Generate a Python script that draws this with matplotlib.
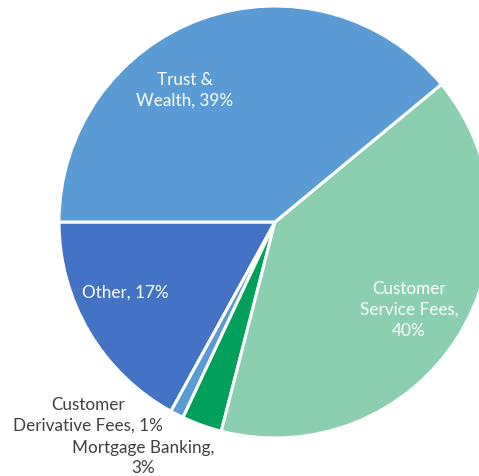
import matplotlib
matplotlib.use("Agg")
import matplotlib.pyplot as plt

# ── Data ──────────────────────────────────────────────────────────────────────
categories = ["Other", "Customer Derivative Fees", "Mortgage Banking",
              "Customer Service Fees", "Trust & Wealth"]
shares = [17, 1, 3, 40, 39]
colors = ["#4472C4", "#5B9BD5", "#00A05A", "#8CCEB0", "#5B9BD5"]

# ── Figure (data units = pixels) ─────────────────────────────────────────────
W, H = 479, 477
fig = plt.figure(figsize=(W / 100, H / 100), dpi=100)
ax = fig.add_axes([0, 0, 1, 1])

cx, cy, r = 275, H - 223, 216
ax.pie(shares, colors=colors, startangle=180, counterclock=True,
       center=(cx, cy), radius=r, frame=True,
       wedgeprops=dict(edgecolor="white", linewidth=2.2))
ax.set_xlim(0, W)
ax.set_ylim(0, H)
ax.set_aspect("equal")
ax.axis("off")

font = dict(family="Lato", fontsize=12.3, ha="center", va="center",
            linespacing=1.38)

# labels inside wedges (white)
ax.text(185, H - 90, "Trust &\nWealth, 39%", color="white", **font)
ax.text(409, H - 310, "Customer\nService Fees,\n40%", color="white", **font)
ax.text(125, H - 293, "Other, 17%", color="white", **font)

# labels outside (dark)
ax.text(88, H - 415, "Customer\nDerivative Fees, 1%", color="#404040", **font)
ax.text(143, H - 458, "Mortgage Banking,\n3%", color="#404040", **font)

fig.savefig("out.png", dpi=100, facecolor="white")
